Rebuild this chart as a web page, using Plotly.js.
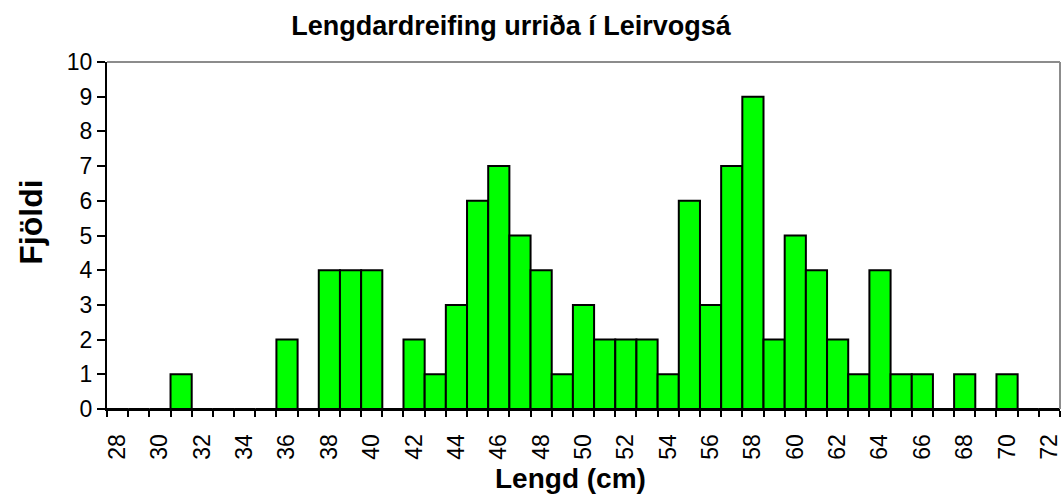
<!DOCTYPE html>
<html>
<head>
<meta charset="utf-8">
<script src="https://cdn.plot.ly/plotly-3.0.1.min.js"></script>
<style>
  body { margin: 0; background: #fff; }
  #chart { width: 1064px; height: 497px; }
</style>
</head>
<body>
<div id="chart"></div>
<script>
// length classes (cm) and count of trout in each
var lengths = [28, 29, 30, 31, 32, 33, 34, 35, 36, 37, 38, 39, 40, 41, 42, 43, 44, 45, 46, 47, 48, 49, 50,
               51, 52, 53, 54, 55, 56, 57, 58, 59, 60, 61, 62, 63, 64, 65, 66, 67, 68, 69, 70, 71, 72];
var counts  = [0, 0, 0, 1, 0, 0, 0, 0, 2, 0, 4, 4, 4, 0, 2, 1, 3, 6, 7, 5, 4, 1, 3,
               2, 2, 2, 1, 6, 3, 7, 9, 2, 5, 4, 2, 1, 4, 1, 1, 0, 1, 0, 1, 0, 0];

var chartTitle = "Lengdardreifing urriða í Leirvogsá";
var xTitle = "Lengd (cm)";
var yTitle = "Fjöldi";

var font = "Liberation Sans, Arial, sans-serif";

var trace = {
  type: "bar",
  x: lengths,
  y: counts,
  width: 1,
  marker: { color: "#00ff00", line: { color: "#000000", width: 2 } },
  hoverinfo: "x+y"
};

var layout = {
  width: 1064,
  height: 497,
  margin: { l: 107, r: 4, t: 62, b: 88 },
  paper_bgcolor: "#ffffff",
  plot_bgcolor: "#ffffff",
  showlegend: false,
  bargap: 0,
  font: { family: font, color: "#000000" },
  title: {
    text: "<b>" + chartTitle + "</b>",
    font: { family: font, size: 27, color: "#000000" },
    x: 0.424, xref: "paper", xanchor: "center",
    y: 0.948, yanchor: "middle"
  },
  xaxis: {
    type: "linear",
    range: [27.5, 72.5],
    tick0: 28,
    dtick: 2,
    tickangle: -90,
    ticks: "",
    ticklabelstandoff: 14,
    tickfont: { family: font, size: 23, color: "#000000" },
    minor: { ticks: "outside", tick0: 27.5, dtick: 1, ticklen: 6, tickwidth: 2, tickcolor: "#000000", showgrid: false },
    showline: true, linecolor: "#000000", linewidth: 2,
    showgrid: false, zeroline: false
  },
  yaxis: {
    range: [0, 10],
    tick0: 0,
    dtick: 1,
    ticks: "outside", ticklen: 8, tickwidth: 2, tickcolor: "#000000",
    tickfont: { family: font, size: 23, color: "#000000" },
    showline: true, linecolor: "#000000", linewidth: 2,
    showgrid: false, zeroline: false
  },
  annotations: [
    { text: "<b>" + xTitle + "</b>", xref: "paper", yref: "paper", x: 0.486, y: -0.199,
      xanchor: "center", yanchor: "middle", showarrow: false,
      font: { family: font, size: 28, color: "#000000" } },
    { text: "<b>" + yTitle + "</b>", xref: "paper", yref: "paper", x: -0.08, y: 0.539,
      xanchor: "center", yanchor: "middle", textangle: -90, showarrow: false,
      font: { family: font, size: 32, color: "#000000" } }
  ],
  shapes: [
    { type: "line", xref: "paper", yref: "paper", x0: 0, x1: 1, y0: 1, y1: 1, line: { color: "#8c8c8c", width: 2 } },
    { type: "line", xref: "paper", yref: "paper", x0: 1, x1: 1, y0: 0, y1: 1, line: { color: "#8c8c8c", width: 2 } }
  ]
};

Plotly.newPlot("chart", [trace], layout, { displayModeBar: false, staticPlot: true });
</script>
</body>
</html>
